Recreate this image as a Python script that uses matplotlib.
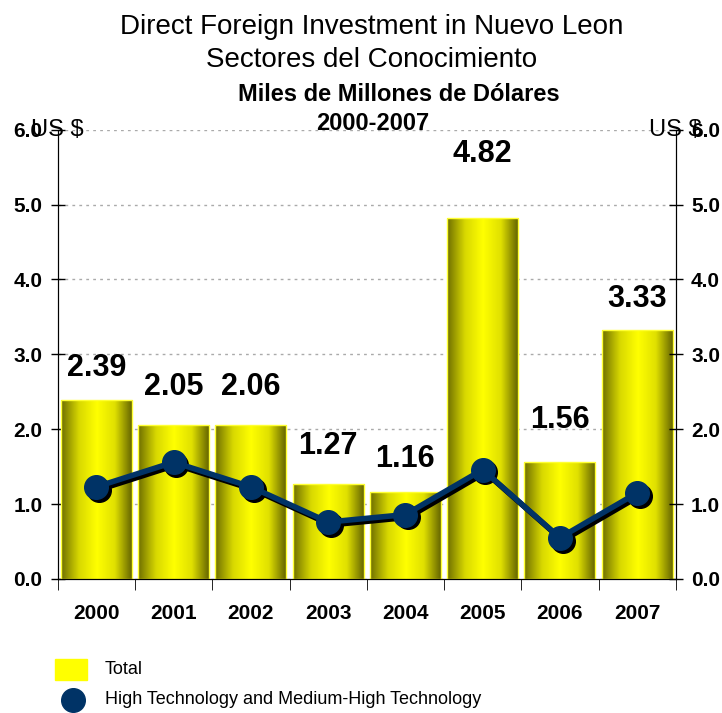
import numpy as np
import matplotlib
matplotlib.use('Agg')
import matplotlib.pyplot as plt
from matplotlib.colors import LinearSegmentedColormap
from matplotlib.transforms import offset_copy

years = ['2000', '2001', '2002', '2003', '2004', '2005', '2006', '2007']
total = [2.39, 2.05, 2.06, 1.27, 1.16, 4.82, 1.56, 3.33]
high_tech = [1.23, 1.56, 1.23, 0.76, 0.86, 1.46, 0.55, 1.15]

# gap between bar top and centre of the value label (data units)
label_gap = [0.43, 0.51, 0.51, 0.51, 0.44, 0.86, 0.56, 0.41]

plt.rcParams['font.family'] = ['Liberation Sans', 'DejaVu Sans']

fig = plt.figure(figsize=(7.22, 7.13), dpi=100)
ax = fig.add_axes([0.080, 0.188, 0.856, 0.630])

x = np.arange(len(years))
bars = ax.bar(x, total, width=0.92, color='none', edgecolor='#ffff33', linewidth=1, zorder=2)

# horizontal gradient inside each bar: dark olive -> yellow -> dark olive
cmap = LinearSegmentedColormap.from_list('bar', ['#6e6e00', '#d8d800', '#ffff00', '#e0e000', '#5e5e00'])
grad = np.linspace(0, 1, 256).reshape(1, -1)
for b in bars:
    im = ax.imshow(grad, cmap=cmap, aspect='auto', zorder=1.5,
                   extent=[b.get_x(), b.get_x() + b.get_width(), 0, b.get_height()])
    im.set_clip_path(b)

for xi, v, g in zip(x, total, label_gap):
    ax.text(xi, v + g, f'{v:.2f}', ha='center', va='center', fontsize=22, fontweight='bold')

# dark drop shadow under the line, then the line itself
shadow_tr = offset_copy(ax.transData, fig=fig, x=2, y=-2, units='points')
ax.plot(x, high_tech, color='black', linewidth=4, marker='o', markersize=17,
        zorder=3, transform=shadow_tr)
ax.plot(x, high_tech, color='#003366', linewidth=4, marker='o', markersize=17, zorder=4)

ax.set_xlim(-0.5, len(years) - 0.5)
ax.set_ylim(0, 6)
ticks = np.arange(0, 6.1, 1.0)
ax.set_yticks(ticks)
ax.set_yticklabels([f'{t:.1f}' for t in ticks], fontsize=15, fontweight='bold')
ax.yaxis.grid(True, linestyle=(0, (2, 3)), color='#aaaaaa', linewidth=1)
ax.set_axisbelow(True)
ax.tick_params(axis='y', direction='inout', length=10, width=1, pad=6)

ax.set_xticks(x)
ax.set_xticklabels(years, fontsize=15, fontweight='bold')
ax.tick_params(axis='x', length=0, pad=18)
ax.set_xticks(np.arange(-0.5, len(years)), minor=True)
ax.tick_params(axis='x', which='minor', direction='out', length=8)

ax.spines['top'].set_visible(False)

ax2 = ax.twinx()
ax2.set_ylim(0, 6)
ax2.set_yticks(ticks)
ax2.set_yticklabels([f'{t:.1f}' for t in ticks], fontsize=15, fontweight='bold')
ax2.tick_params(axis='y', direction='inout', length=10, width=1, pad=6)
ax2.spines['top'].set_visible(False)

ax.text(0.0, 6.0, 'US $', transform=ax.get_yaxis_transform(), ha='center', va='center',
        fontsize=17)
ax.text(1.0, 6.0, 'US $', transform=ax.get_yaxis_transform(), ha='center', va='center',
        fontsize=17)

fig.text(0.515, 0.962, 'Direct Foreign Investment in Nuevo Leon', ha='center', va='center', fontsize=20)
fig.text(0.515, 0.916, 'Sectores del Conocimiento', ha='center', va='center', fontsize=20)
fig.text(0.552, 0.868, 'Miles de Millones de Dólares', ha='center', va='center', fontsize=17, fontweight='bold')
fig.text(0.516, 0.827, '2000-2007', ha='center', va='center', fontsize=17, fontweight='bold')

# legend
fig.patches.append(plt.Rectangle((55 / 722, 1 - 680 / 713), 32 / 722, 21 / 713,
                                 transform=fig.transFigure, color='#ffff00'))
fig.text(105 / 722, 1 - 669 / 713, 'Total', ha='left', va='center', fontsize=13)
fig.lines.append(plt.Line2D([73 / 722], [1 - 700 / 713], marker='o', markersize=17,
                            color='#003366', transform=fig.transFigure))
fig.text(105 / 722, 1 - 700 / 713, 'High Technology and Medium-High Technology',
         ha='left', va='center', fontsize=13)

fig.savefig('out.png', dpi=100)
